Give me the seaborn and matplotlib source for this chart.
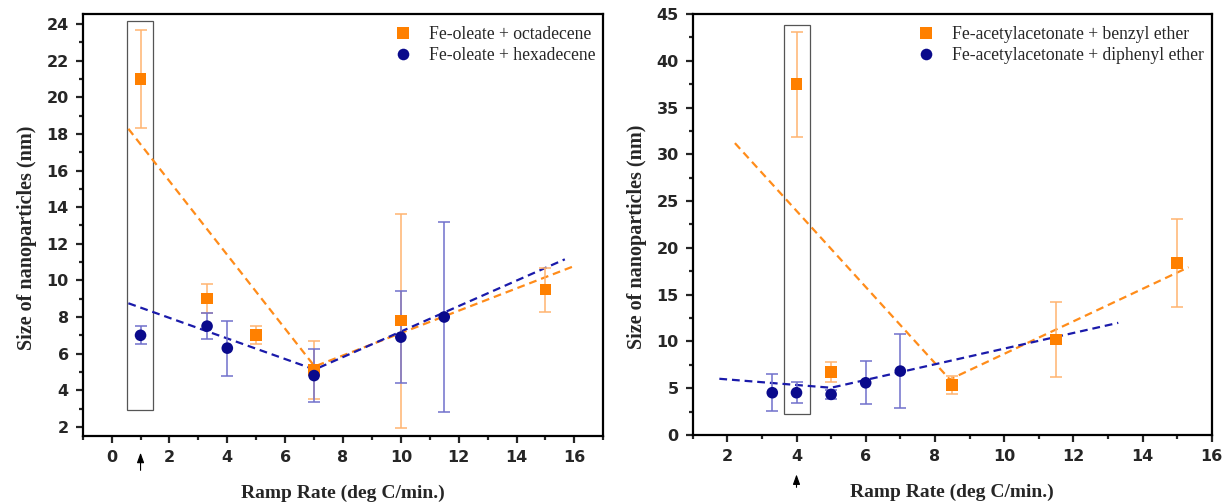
import matplotlib
matplotlib.use("Agg")
import matplotlib.pyplot as plt
from matplotlib.patches import Rectangle
from matplotlib.ticker import MultipleLocator
import seaborn as sns
import pandas as pd

########## Data ##########

# left panel: Fe-oleate
ole_oct_x = [1, 3.3, 5, 7, 10, 15]
ole_oct_y = [21.0, 9.0, 7.0, 5.1, 7.8, 9.5]
ole_oct_err = [2.7, 0.8, 0.5, 1.6, 5.85, 1.2]
ole_hex_x = [1, 3.3, 4, 7, 10, 11.5]
ole_hex_y = [7.0, 7.5, 6.3, 4.8, 6.9, 8.0]
ole_hex_err = [0.5, 0.7, 1.5, 1.45, 2.5, 5.2]
ole_oct_fit_x = [0.58, 7.02, 15.94]
ole_oct_fit_y = [18.28, 5.3, 10.75]
ole_hex_fit_x = [0.58, 7.02, 15.67]
ole_hex_fit_y = [8.75, 5.13, 11.15]
ole_box = [0.53, 2.9, 1.44, 24.15]   # x0, y0, x1, y1
ole_arrow_x = 1

# right panel: Fe-acetylacetonate
acac_bz_x = [4, 5, 8.5, 11.5, 15]
acac_bz_y = [37.5, 6.76, 5.33, 10.2, 18.4]
acac_bz_err = [5.6, 1.07, 0.93, 4.0, 4.7]
acac_dp_x = [3.3, 4, 5, 6, 7]
acac_dp_y = [4.52, 4.52, 4.34, 5.58, 6.83]
acac_dp_err = [1.95, 1.13, 0.5, 2.28, 3.98]
acac_bz_fit_x = [2.22, 8.43, 15.33]
acac_bz_fit_y = [31.2, 5.94, 17.93]
acac_dp_fit_x = [1.77, 5.0, 13.3]
acac_dp_fit_y = [6.01, 5.05, 11.99]
acac_box = [3.64, 2.2, 4.39, 43.83]
acac_arrow_x = 4

labels_left = ["Fe-oleate + octadecene", "Fe-oleate + hexadecene"]
labels_right = ["Fe-acetylacetonate + benzyl ether", "Fe-acetylacetonate + diphenyl ether"]

########## Style ##########

sns.set_theme(style="ticks")
plt.rcParams["font.family"] = ["DejaVu Sans"]
plt.rcParams["font.weight"] = "bold"

ORANGE = "#ff8000"
ORANGE_ERR = "#ffb470"
NAVY = "#0a0a8c"
NAVY_ERR = "#7070cc"
ORANGE_LINE = "#ff8c1a"
NAVY_LINE = "#1a1aaa"
SERIF = ["Liberation Serif", "DejaVu Serif"]


def draw_panel(ax, sq, ci, fits, labels, box, arrow_x, arrow_y, xlim, ylim, xmaj, ymaj, legend_pos):
    sq_x, sq_y, sq_e = sq
    ci_x, ci_y, ci_e = ci
    # fit lines
    for (fx, fy), col in zip(fits, [ORANGE_LINE, NAVY_LINE]):
        fit = pd.DataFrame({"x": fx, "y": fy})
        sns.lineplot(data=fit, x="x", y="y", ax=ax, color=col, lw=1.6,
                     sort=False, estimator=None, zorder=2)
        ax.lines[-1].set_dashes([3.5, 2.2])
    # error bars
    ax.errorbar(sq_x, sq_y, yerr=sq_e, fmt="none", ecolor=ORANGE_ERR, elinewidth=1.1,
                capsize=4, capthick=1.1, zorder=3)
    ax.errorbar(ci_x, ci_y, yerr=ci_e, fmt="none", ecolor=NAVY_ERR, elinewidth=1.1,
                capsize=4, capthick=1.1, zorder=3)
    # markers
    frame = pd.concat([
        pd.DataFrame({"x": sq_x, "y": sq_y, "series": labels[0]}),
        pd.DataFrame({"x": ci_x, "y": ci_y, "series": labels[1]}),
    ])
    sns.scatterplot(data=frame, x="x", y="y", hue="series", style="series",
                    palette=[ORANGE, NAVY], markers=["s", "o"], s=70,
                    linewidth=0, ax=ax, zorder=4)
    # highlight box and arrow
    ax.add_patch(Rectangle((box[0], box[1]), box[2] - box[0], box[3] - box[1],
                           fill=False, ec="#555555", lw=0.9, zorder=1))
    ax.annotate("", xy=(arrow_x, arrow_y[0]), xytext=(arrow_x, arrow_y[1]),
                xycoords=("data", "axes fraction"), textcoords=("data", "axes fraction"),
                arrowprops=dict(arrowstyle="-|>,head_length=0.5,head_width=0.18",
                                color="black", lw=0.8), annotation_clip=False)

    ax.set_xlim(*xlim)
    ax.set_ylim(*ylim)
    ax.xaxis.set_major_locator(MultipleLocator(xmaj))
    ax.xaxis.set_minor_locator(MultipleLocator(xmaj / 2))
    ax.yaxis.set_major_locator(MultipleLocator(ymaj))
    ax.yaxis.set_minor_locator(MultipleLocator(ymaj / 2))
    for sp in ax.spines.values():
        sp.set_visible(True)
        sp.set_linewidth(1.6)
        sp.set_color("black")
    ax.tick_params(which="major", length=5, width=1.6, labelsize=11.5, pad=5)
    ax.tick_params(which="minor", length=3, width=1.6)
    ax.tick_params(top=False, right=False, which="both")
    ax.set_xlabel("Ramp Rate (deg C/min.)", fontsize=14, fontweight="bold", family=SERIF, labelpad=14)
    ax.set_ylabel("Size of nanoparticles (nm)", fontsize=14.5, fontweight="bold", family=SERIF, labelpad=7)
    ax.yaxis.label.set_y(0.47)

    handles, labs = ax.get_legend_handles_labels()
    ax.legend(handles=handles[-2:], labels=labs[-2:], loc="upper left", bbox_to_anchor=legend_pos,
              frameon=False, borderpad=0, borderaxespad=0, handlelength=1.0, handletextpad=0.95,
              labelspacing=0.25, prop={"family": SERIF, "size": 12.7, "weight": "normal"})


fig = plt.figure(figsize=(12.22, 5.04), dpi=100)
ax1 = fig.add_axes([82.7 / 1222, 68 / 504, 520.6 / 1222, 422 / 504])
ax2 = fig.add_axes([692.7 / 1222, 69 / 504, 519 / 1222, 421 / 504])

draw_panel(ax1, (ole_oct_x, ole_oct_y, ole_oct_err), (ole_hex_x, ole_hex_y, ole_hex_err),
           [(ole_oct_fit_x, ole_oct_fit_y), (ole_hex_fit_x, ole_hex_fit_y)],
           labels_left, ole_box, ole_arrow_x, (-0.033, -0.088),
           (-1, 17), (1.5, 24.55), 2, 2, (0.599, 0.972))
draw_panel(ax2, (acac_bz_x, acac_bz_y, acac_bz_err), (acac_dp_x, acac_dp_y, acac_dp_err),
           [(acac_bz_fit_x, acac_bz_fit_y), (acac_dp_fit_x, acac_dp_fit_y)],
           labels_right, acac_box, acac_arrow_x, (-0.087, -0.131),
           (1, 16), (0, 45), 2, 5, (0.433, 0.972))

fig.savefig("out.png", dpi=100)
